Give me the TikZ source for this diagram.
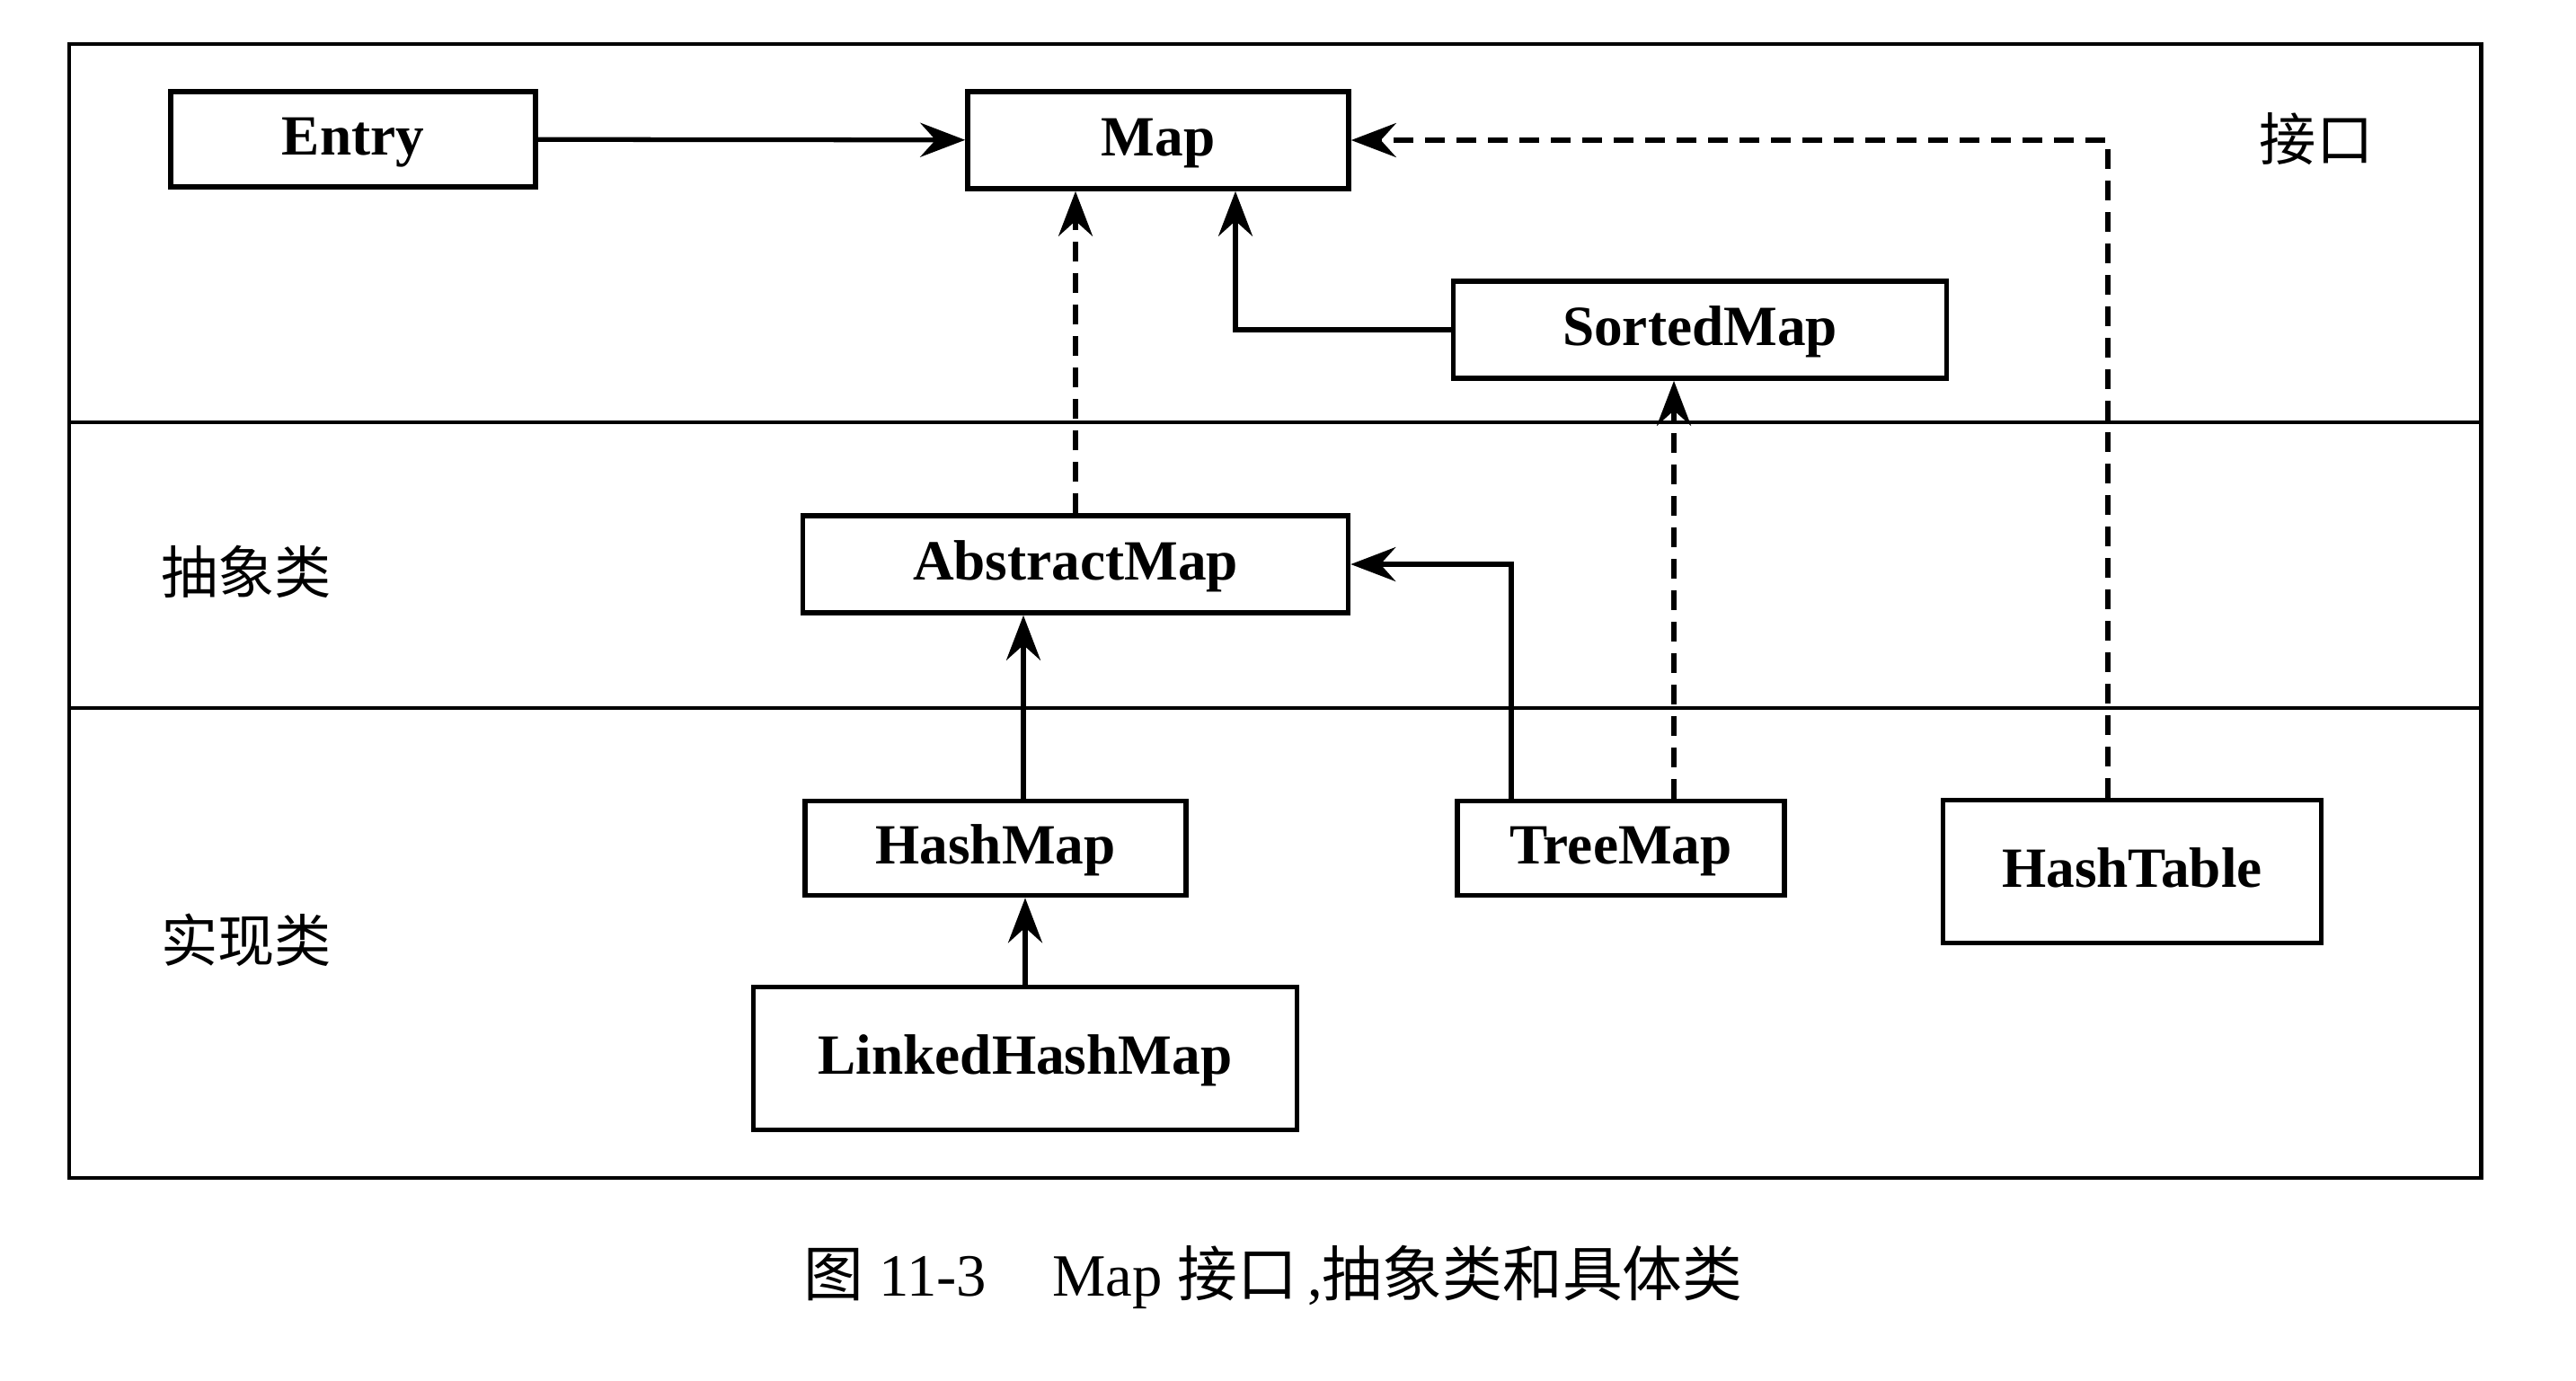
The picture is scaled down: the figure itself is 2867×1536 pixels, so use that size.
\documentclass[tikz,border=0pt]{standalone}
\usepackage{fontspec}
\setmainfont{Liberation Serif}
\newfontfamily\cjk{Noto Sans CJK SC}
\usetikzlibrary{arrows.meta}

\tikzset{
	cls/.style={shape=rectangle, draw=black, line width=1.6pt, font=\fontsize{18}{20}\selectfont\bfseries, inner sep=0pt, text height=2.2ex, text depth=0ex},
	arr/.style={line width=1.5pt, -{Stealth[length=5mm, width=3.8mm, inset=1.7mm]}},
	dsh/.style={dash pattern=on 2.2mm off 1.3mm},
	layer/.style={font=\fontsize{18}{20}\selectfont\cjk}
}

\begin{document}
\begin{tikzpicture}[x=0.1mm, y=-0.1mm]
	
	\useasboundingbox (0,0) rectangle (2867,1536);
	\draw[line width=1.4pt] (77,49) rectangle (2761,1311);
	\draw[line width=1.4pt] (77,470) -- (2761,470);
	\draw[line width=1.4pt] (77,788) -- (2761,788);
	
	\node[cls, minimum width=40.6mm, minimum height=10.6mm] (entry) at (393, 155)     {Entry};
	\node[cls, minimum width=42.4mm, minimum height=10.8mm] (map) at (1289, 156)     {Map};
	\node[cls, minimum width=54.9mm, minimum height=10.8mm] (sortedmap) at (1892, 367)     {SortedMap};
	\node[cls, minimum width=60.7mm, minimum height=10.8mm] (abstractmap) at (1197, 628)     {AbstractMap};
	\node[cls, minimum width=42.4mm, minimum height=10.5mm] (hashmap) at (1108, 944)     {HashMap};
	\node[cls, minimum width=36.4mm, minimum height=10.5mm] (treemap) at (1804, 944)     {TreeMap};
	\node[cls, minimum width=42.1mm, minimum height=15.9mm] (hashtable) at (2373, 970)     {HashTable};
	\node[cls, minimum width=60.5mm, minimum height=15.9mm] (linkedhashmap) at (1141, 1178)     {LinkedHashMap};
	
	\node[layer] (interface) at (2578, 155)     {接口};
	\node[layer] (abstract) at (274, 636)     {抽象类};
	\node[layer] (concrete) at (274, 1046)     {实现类};
	
	\draw[arr] (entry) -- (map);
	\draw[arr, dsh] ([xshift=-2.7mm]hashtable.north) |- (map.east);
	\draw[arr] (sortedmap.west) -| ([xshift=8.6mm]map.south);
	\draw[arr, dsh] (abstractmap.north) -- (abstractmap.north |- map.south);
	\draw[arr] ([xshift=-12.2mm]treemap.north) |- (abstractmap.east);
	\draw[arr, dsh] ([xshift=5.9mm]treemap.north) -- ([xshift=5.9mm]treemap.north |- sortedmap.south);
	\draw[arr] ([xshift=3.1mm]hashmap.north) -- ([xshift=3.1mm]hashmap.north |- abstractmap.south);
	\draw[arr] (linkedhashmap.north) -- (linkedhashmap.north |- hashmap.south);
	
	\node[font=\fontsize{19}{21}\selectfont] (caption) at (1417, 1421)     {{\cjk 图}~11-3\hspace{1.1em}Map~{\cjk 接口}\,,{\cjk 抽象类和具体类}};
	
\end{tikzpicture}
\end{document}
